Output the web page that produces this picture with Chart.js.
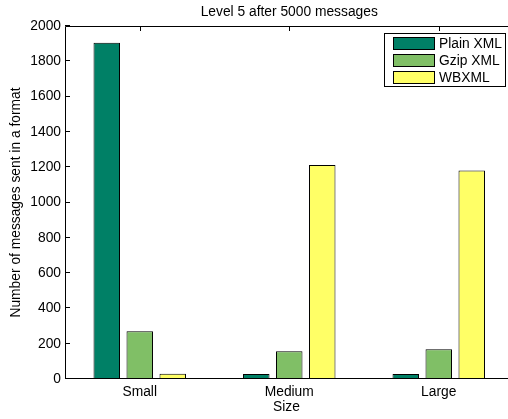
<!DOCTYPE html>
<html>
<head>
<meta charset="utf-8">
<script src="https://cdn.jsdelivr.net/npm/chart.js@4/dist/chart.umd.min.js"></script>
<style>
  html, body { margin: 0; padding: 0; background: #fff; overflow: hidden; }
  canvas { display: block; }
</style>
</head>
<body>
<canvas id="chart" width="508" height="419" style="width:508px;height:419px"></canvas>
<script>
// Message counts per message size, one array per encoding format
const categories = ['Small', 'Medium', 'Large'];
const plainXml = [1905, 28, 28];
const gzipXml = [270, 157, 168];
const wbxml = [30, 1212, 1182];
const seriesNames = ['Plain XML', 'Gzip XML', 'WBXML'];
const yMin = 0, yMax = 2000, yStep = 200;
const chartTitle = 'Level 5 after 5000 messages';

// x runs from -0.5 to 2.5 in category units; the plot box is cut by the
// right edge of the canvas, so only part of the last half-unit is visible
const xMin = -0.5;
const xMax = 2.4632;

const FONT = 'Liberation Sans, Arial, Helvetica, sans-serif';
const FS = 13.8;

const toPoints = arr => arr.map((v, i) => ({ x: i, y: v }));

// Title centred over the full (uncut) plot box
const plotTitle = {
  id: 'plotTitle',
  afterDraw(chart) {
    const { ctx, chartArea: a, scales: { x } } = chart;
    const cx = (a.left + x.getPixelForValue(2.5)) / 2;
    ctx.save();
    ctx.font = FS + 'px ' + FONT;
    ctx.fillStyle = '#000';
    ctx.textAlign = 'center';
    ctx.textBaseline = 'middle';
    ctx.fillText(chartTitle, cx, 12.5);
    ctx.restore();
  }
};

// Axis lines with inward tick marks (tick marks sit under the bars)
const axesFrame = {
  id: 'axesFrame',
  beforeDatasetsDraw(chart) {
    const { ctx, chartArea: a, scales: { x, y } } = chart;
    ctx.save();
    ctx.strokeStyle = '#000';
    ctx.lineWidth = 1;
    ctx.beginPath();
    y.ticks.forEach(t => {
      const py = Math.round(y.getPixelForValue(t.value)) - 0.5;
      ctx.moveTo(a.left, py); ctx.lineTo(a.left + 5, py);
    });
    x.ticks.forEach(t => {
      const px = Math.round(x.getPixelForValue(t.value)) + 0.5;
      ctx.moveTo(px, a.top); ctx.lineTo(px, a.top + 5);
      ctx.moveTo(px, a.bottom); ctx.lineTo(px, a.bottom - 5);
    });
    ctx.stroke();
    ctx.restore();
  },
  afterDatasetsDraw(chart) {
    const { ctx, chartArea: a, width } = chart;
    const l = Math.round(a.left) + 0.5, t = Math.round(a.top) + 0.5, b = Math.round(a.bottom) - 0.5;
    ctx.save();
    ctx.strokeStyle = '#000';
    ctx.lineWidth = 1;
    ctx.beginPath();
    ctx.moveTo(width + 2, t); ctx.lineTo(l, t); ctx.lineTo(l, b); ctx.lineTo(width + 2, b);
    ctx.stroke();
    ctx.restore();
  }
};

// Boxed legend placed inside the plot area, top-right corner
const boxedLegend = {
  id: 'boxedLegend',
  afterDraw(chart) {
    const { ctx } = chart;
    const bx = 384.5, by = 33.5, bw = 121, bh = 53;
    ctx.save();
    ctx.fillStyle = '#fff';
    ctx.fillRect(bx, by, bw, bh);
    ctx.strokeStyle = '#000';
    ctx.lineWidth = 1;
    ctx.strokeRect(bx, by, bw, bh);
    ctx.font = FS + 'px ' + FONT;
    ctx.textBaseline = 'middle';
    ctx.textAlign = 'left';
    chart.data.datasets.forEach((ds, i) => {
      const cy = 44 + i * 17;
      ctx.fillStyle = ds.backgroundColor;
      ctx.fillRect(393.5, cy - 6.5, 41, 12);
      ctx.strokeStyle = '#000';
      ctx.strokeRect(393.5, cy - 6.5, 41, 12);
      ctx.fillStyle = '#000';
      ctx.fillText(ds.label, 439, cy + 0.5);
    });
    ctx.restore();
  }
};

const barStyle = { borderColor: '#000', borderWidth: 1, categoryPercentage: 0.662, barPercentage: 0.803 };

new Chart(document.getElementById('chart'), {
  type: 'bar',
  data: {
    datasets: [
      { label: seriesNames[0], data: toPoints(plainXml), backgroundColor: '#008066', ...barStyle },
      { label: seriesNames[1], data: toPoints(gzipXml), backgroundColor: '#80BF66', ...barStyle },
      { label: seriesNames[2], data: toPoints(wbxml), backgroundColor: '#FFFF66', ...barStyle }
    ]
  },
  options: {
    responsive: false,
    animation: false,
    devicePixelRatio: 1,
    layout: { padding: { left: 0, right: 0, top: 26, bottom: 0 } },
    plugins: {
      legend: { display: false },
      tooltip: { enabled: false },
      title: { display: false }
    },
    scales: {
      x: {
        type: 'linear',
        offset: false,
        min: xMin,
        max: xMax,
        grid: { display: false, drawTicks: false, offset: false },
        border: { display: false },
        ticks: {
          autoSkip: false, maxRotation: 0,
          color: '#000', font: { family: FONT, size: FS }, padding: 4.5,
          callback: v => categories[v]
        },
        // one tick per size category
        afterBuildTicks(scale) { scale.ticks = categories.map((c, i) => ({ value: i })); },
        title: { display: true, text: 'Size', color: '#000', font: { family: FONT, size: FS }, padding: { top: 0, bottom: 3.9 } },
        afterFit(scale) { scale.height = 40; }
      },
      y: {
        min: yMin,
        max: yMax,
        grid: { display: false, drawTicks: false },
        border: { display: false },
        ticks: {
          stepSize: yStep, color: '#000', font: { family: FONT, size: FS }, padding: 4,
          callback: v => String(v)
        },
        title: { display: true, text: 'Number of messages sent in a format', color: '#000', font: { family: FONT, size: FS }, padding: { top: 7.9, bottom: 0 } },
        afterFit(scale) { scale.width = 65; }
      }
    }
  },
  plugins: [axesFrame, boxedLegend, plotTitle]
});
</script>
</body>
</html>
